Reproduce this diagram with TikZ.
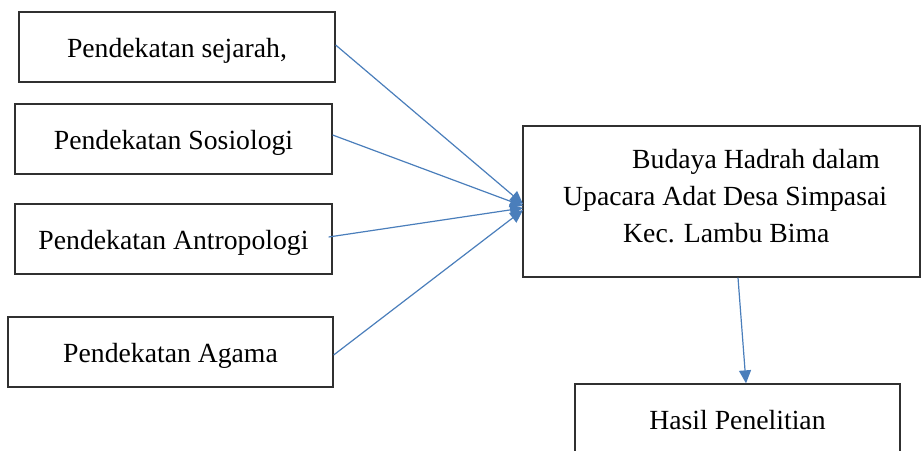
\documentclass[tikz,border=0pt]{standalone}
\usepackage{fontspec}
\setmainfont{Liberation Serif}
\usetikzlibrary{arrows.meta,calc}
\definecolor{arrowblue}{HTML}{4A7EBB}
\definecolor{boxline}{HTML}{303030}
\begin{document}
\begin{tikzpicture}[x=1pt,y=-1pt,
  box/.style={draw=boxline,line width=1.3pt,inner sep=0pt,text height=24pt,text depth=4pt,
    font=\fontsize{27.7pt}{37.5pt}\selectfont},
  conn/.style={draw=arrowblue,line width=1.2pt,-{Triangle[length=13pt,width=12pt]}},
  txt/.style={inner sep=0pt,align=left,font=\fontsize{27.7pt}{37.5pt}\selectfont}]
\useasboundingbox (0,0) rectangle (923,450);
\clip (0,0) rectangle (923,450);
\node[box,minimum width=316pt,minimum height=70pt] (b1) at (177,47) {Pendekatan sejarah,};
\node[box,minimum width=317pt,minimum height=70pt] (b2) at (173.5,139) {Pendekatan Sosiologi};
\node[box,minimum width=317pt,minimum height=70pt] (b3) at (173.5,239) {Pendekatan Antropologi};
\node[box,minimum width=325pt,minimum height=70pt] (b4) at (170.5,352) {Pendekatan Agama};
\node[draw=boxline,line width=1.3pt,minimum width=397pt,minimum height=151pt,inner sep=0pt] (c) at (721.5,201.5) {};
\node[txt,anchor=base west] (l1) at (632,168) {Budaya Hadrah dalam};
\node[txt,anchor=base west] (l2) at (563,205) {Upacara Adat Desa Simpasai};
\node[txt,anchor=base west] (l3) at (623,242) {Kec. Lambu Bima};
\node[box,minimum width=325pt,minimum height=70pt] (h) at (737.5,419) {Hasil Penelitian};
\coordinate (t1) at (523,204);
\coordinate (t2) at (523,206);
\coordinate (t3) at (523,208);
\coordinate (t4) at (523,210);
\draw[conn] ($(b1.east)+(0,-2)$) -- (t1);
\draw[conn] ($(b2.east)+(0,-4)$) -- (t2);
\draw[conn] ($(b3.east)+(-4,-2)$) -- (t3);
\draw[conn] ($(b4.east)+(0,3)$) -- (t4);
\draw[conn] ($(c.south)+(16.5,0)$) -- ($(h.north)+(8.5,0)$);
\end{tikzpicture}
\end{document}
